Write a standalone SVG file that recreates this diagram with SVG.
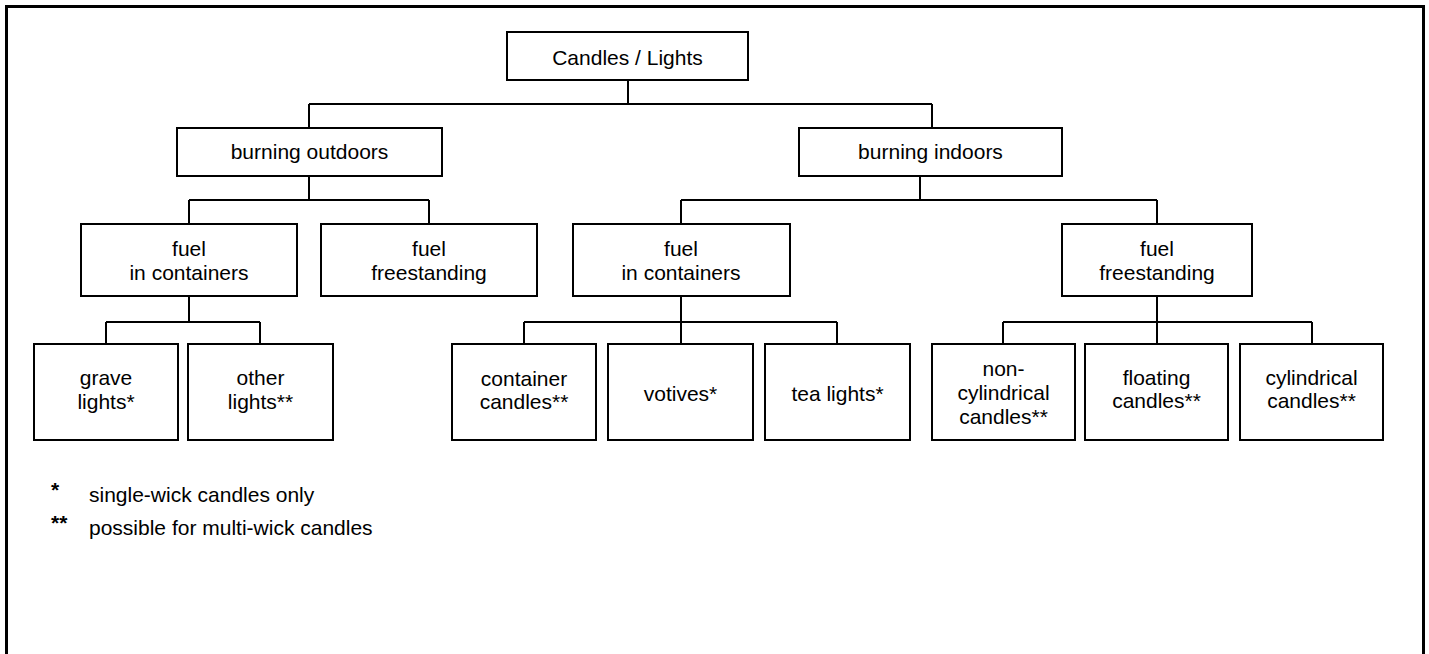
<svg xmlns="http://www.w3.org/2000/svg" width="1429" height="654" viewBox="0 0 1429 654">
<style>
.box{fill:#fff;stroke:#000;stroke-width:2}
.t{font-family:"Liberation Sans",Arial,sans-serif;font-size:21px;fill:#000;text-anchor:middle}
.lg{font-family:"Liberation Sans",Arial,sans-serif;font-size:21px;fill:#000}
.st{font-family:"Liberation Sans",Arial,sans-serif;font-size:21px;font-weight:bold;fill:#000}
.c{fill:none;stroke:#000;stroke-width:2}
</style>
<rect width="1429" height="654" fill="#fff"/>
<rect id="frame" x="6.5" y="6.5" width="1417" height="700" fill="none" stroke="#000" stroke-width="3"/>
<g id="connectors">
<path class="c" d="M628 80V104M309 104H932M309 104V128M932 104V128"/>
<path class="c" d="M309 176V200M189 200H429M189 200V224M429 200V224"/>
<path class="c" d="M920 176V200M681 200H1157M681 200V224M1157 200V224"/>
<path class="c" d="M189 296V322M106 322H260M106 322V344M260 322V344"/>
<path class="c" d="M681 296V322M524 322H837M524 322V344M681 322V344M837 322V344"/>
<path class="c" d="M1157 296V322M1003 322H1312M1003 322V344M1157 322V344M1312 322V344"/>
</g>
<g id="root"><rect class="box" x="507" y="32" width="241" height="48"/><text class="t" x="627.5" y="64.5">Candles / Lights</text></g>
<g id="outdoors"><rect class="box" x="177" y="128" width="265" height="48"/><text class="t" x="309.5" y="159">burning outdoors</text></g>
<g id="indoors"><rect class="box" x="799" y="128" width="263" height="48"/><text class="t" x="930.5" y="159">burning indoors</text></g>
<g id="out-containers"><rect class="box" x="81" y="224" width="216" height="72"/><text class="t" x="189" y="256">fuel</text><text class="t" x="189" y="279.5">in containers</text></g>
<g id="out-freestanding"><rect class="box" x="321" y="224" width="216" height="72"/><text class="t" x="429" y="256">fuel</text><text class="t" x="429" y="279.5">freestanding</text></g>
<g id="in-containers"><rect class="box" x="573" y="224" width="217" height="72"/><text class="t" x="681" y="256">fuel</text><text class="t" x="681" y="279.5">in containers</text></g>
<g id="in-freestanding"><rect class="box" x="1062" y="224" width="190" height="72"/><text class="t" x="1157" y="256">fuel</text><text class="t" x="1157" y="279.5">freestanding</text></g>
<g id="grave"><rect class="box" x="34" y="344" width="144" height="96"/><text class="t" x="106" y="384.8">grave</text><text class="t" x="106" y="409.2">lights*</text></g>
<g id="other"><rect class="box" x="188" y="344" width="145" height="96"/><text class="t" x="260.5" y="384.8">other</text><text class="t" x="260.5" y="409.2">lights**</text></g>
<g id="container-candles"><rect class="box" x="452" y="344" width="144" height="96"/><text class="t" x="524" y="385.8">container</text><text class="t" x="524" y="409.2">candles**</text></g>
<g id="votives"><rect class="box" x="608" y="344" width="145" height="96"/><text class="t" x="680.5" y="400.8">votives*</text></g>
<g id="tea-lights"><rect class="box" x="765" y="344" width="145" height="96"/><text class="t" x="837.5" y="400.8">tea lights*</text></g>
<g id="non-cylindrical"><rect class="box" x="932" y="344" width="143" height="96"/><text class="t" x="1003.5" y="375.8">non-</text><text class="t" x="1003.5" y="400.2">cylindrical</text><text class="t" x="1003.5" y="424.2">candles**</text></g>
<g id="floating"><rect class="box" x="1085" y="344" width="143" height="96"/><text class="t" x="1156.5" y="385.2">floating</text><text class="t" x="1156.5" y="408.2">candles**</text></g>
<g id="cylindrical"><rect class="box" x="1240" y="344" width="143" height="96"/><text class="t" x="1311.5" y="385.2">cylindrical</text><text class="t" x="1311.5" y="408.2">candles**</text></g>
<g id="legend">
<text class="st" x="51" y="497">*</text><text class="lg" x="89" y="502">single-wick candles only</text>
<text class="st" x="51" y="530">**</text><text class="lg" x="89" y="535">possible for multi-wick candles</text>
</g>
</svg>
